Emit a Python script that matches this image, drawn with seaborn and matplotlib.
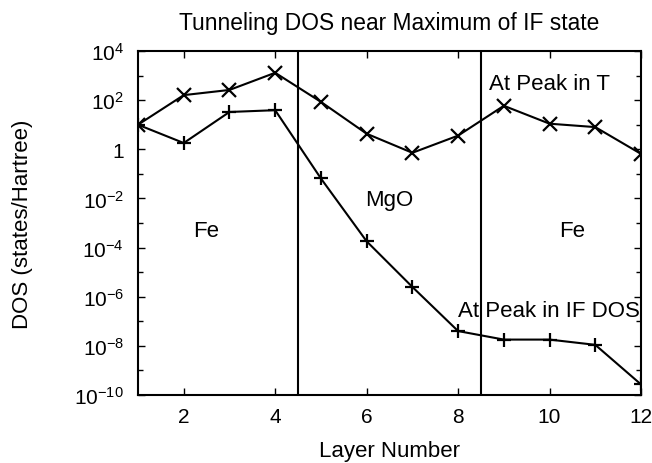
import matplotlib
matplotlib.use("Agg")
import matplotlib.pyplot as plt
import seaborn as sns
import numpy as np
import pandas as pd
from matplotlib.ticker import FixedLocator, FuncFormatter

layers = [1, 2, 3, 4, 5, 6, 7, 8, 9, 10, 11, 12]
peak_T = [10, 160, 260, 1300, 85, 4.3, 0.72, 3.6, 59, 11, 8, 0.65]
peak_IF = [10, 1.8, 33, 39, 0.065, 1.8e-4, 2.5e-6, 4e-8, 1.8e-8, 1.8e-8, 1.1e-8, 2.7e-10]
boundaries = [4.5, 8.5]
region_labels = ["Fe", "MgO", "Fe"]
region_x = [2.5, 6.5, 10.5]
region_y = [5e-4, 9e-3, 5e-4]
ytick_exps = [4, 2, 0, -2, -4, -6, -8, -10]
xticks = [2, 4, 6, 8, 10, 12]

sns.set_style("ticks")
plt.rcParams['font.family'] = ['Liberation Sans', 'DejaVu Sans']
plt.rcParams['mathtext.fontset'] = 'custom'
plt.rcParams['mathtext.rm'] = 'Liberation Sans'
plt.rcParams['mathtext.it'] = 'Liberation Sans'
for k in ['text.color', 'axes.labelcolor', 'xtick.color', 'ytick.color', 'axes.edgecolor']:
    plt.rcParams[k] = 'black'

fig = plt.figure(figsize=(6.52, 4.64), dpi=100)
ax = fig.add_axes([138/652, 1-396/464, (641-138)/652, (396-52)/464])

df = pd.DataFrame({"layer": layers, "T": peak_T, "IF": peak_IF})
sns.lineplot(data=df, x="layer", y="T", ax=ax, color="black", lw=1.5,
             marker="x", markersize=9.5, markeredgewidth=1.6, markeredgecolor="black")
sns.lineplot(data=df, x="layer", y="IF", ax=ax, color="black", lw=1.5,
             marker="+", markersize=10, markeredgewidth=1.6, markeredgecolor="black")

for b in boundaries:
    ax.axvline(b, color="black", lw=1.5)

ax.set_yscale("log")
ax.set_xlim(1, 12)
ax.set_ylim(1e-10, 1e4)

ax.xaxis.set_major_locator(FixedLocator(xticks))
ax.yaxis.set_major_locator(FixedLocator([10.0**e for e in ytick_exps]))
ax.yaxis.set_minor_locator(FixedLocator([10.0**e for e in range(-9, 4, 2)]))

def fmt(v, pos):
    e = int(round(np.log10(v)))
    if e == 0:
        return "1"
    return r"$10^{%d}$" % e
ax.yaxis.set_major_formatter(FuncFormatter(fmt))
ax.yaxis.set_minor_formatter(FuncFormatter(lambda v, p: ""))

ax.tick_params(which="major", direction="in", top=True, right=True,
               length=5, width=1.0, labelsize=15, colors="black")
ax.tick_params(which="minor", direction="in", top=True, right=True,
               length=3.5, width=1.0, colors="black")
ax.tick_params(axis="y", which="major", pad=10)
ax.tick_params(axis="x", which="major", pad=9)
for s in ax.spines.values():
    s.set_linewidth(1.5)
    s.set_color("black")

ax.set_xlabel("Layer Number", fontsize=16, labelpad=10, color="black")
ax.set_ylabel("DOS (states/Hartree)", fontsize=16, labelpad=30, color="black")
ax.set_title("Tunneling DOS near Maximum of IF state", fontsize=16.4, pad=16, color="black")

for lab, xx, yy in zip(region_labels, region_x, region_y):
    ax.text(xx, yy, lab, fontsize=16, ha="center", va="center", color="black")
ax.text(8.67, 10**2.68, "At Peak in T", fontsize=16, ha="left", va="center", color="black")
ax.text(8.0, 10**-6.56, "At Peak in IF DOS", fontsize=16, ha="left", va="center", color="black")

fig.savefig("out.png", dpi=100)
